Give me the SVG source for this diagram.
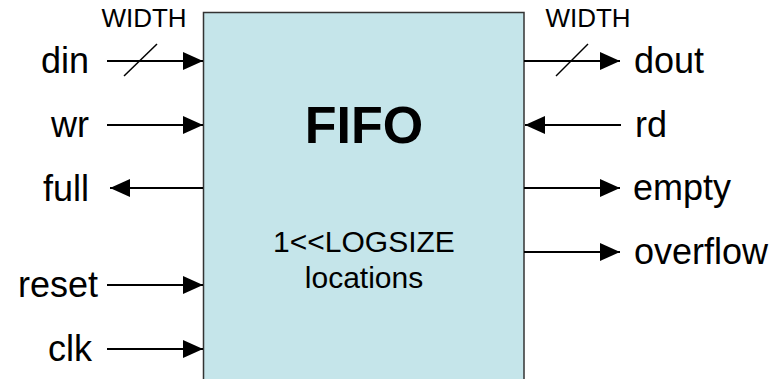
<svg xmlns="http://www.w3.org/2000/svg" width="778" height="379" viewBox="0 0 778 379">
  <style>
    .lbl { font-family: "Liberation Sans", Arial, sans-serif; font-size: 36px; fill: #000; }
    .bus { font-family: "Liberation Sans", Arial, sans-serif; font-size: 26px; fill: #000; }
    .title { font-family: "Liberation Sans", Arial, sans-serif; font-size: 52px; font-weight: bold; fill: #000; }
    .inner { font-family: "Liberation Sans", Arial, sans-serif; font-size: 30px; fill: #000; }
    .wire { stroke: #000; stroke-width: 2; fill: none; }
    .tick { stroke: #000; stroke-width: 1.5; fill: none; }
  </style>
  <defs>
    <marker id="arrow" viewBox="0 0 20 18" refX="20" refY="9" markerWidth="20" markerHeight="18" markerUnits="userSpaceOnUse" orient="auto">
      <path d="M0,0 L20,9 L0,18 Z" fill="#000"/>
    </marker>
  </defs>

  <rect width="778" height="379" fill="#fff"/>

  <!-- FIFO block -->
  <g id="fifo">
    <rect x="203.5" y="12.5" width="320.5" height="380" fill="#C5E5EA" stroke="#333" stroke-width="1.5"/>
    <text class="title" x="364" y="143" text-anchor="middle">FIFO</text>
    <text class="inner" x="364" y="252" text-anchor="middle">1&lt;&lt;LOGSIZE</text>
    <text class="inner" x="364" y="288" text-anchor="middle">locations</text>
  </g>

  <!-- port labels -->
  <g id="port-din"><text class="lbl" x="89" y="73" text-anchor="end">din</text><text class="bus" x="144" y="27" text-anchor="middle">WIDTH</text></g>
  <g id="port-wr"><text class="lbl" x="89" y="137" text-anchor="end">wr</text></g>
  <g id="port-full"><text class="lbl" x="89" y="201" text-anchor="end">full</text></g>
  <g id="port-reset"><text class="lbl" x="98" y="297" text-anchor="end">reset</text></g>
  <g id="port-clk"><text class="lbl" x="92" y="361" text-anchor="end">clk</text></g>
  <g id="port-dout"><text class="lbl" x="634" y="73">dout</text><text class="bus" x="588" y="27" text-anchor="middle">WIDTH</text></g>
  <g id="port-rd"><text class="lbl" x="635" y="137">rd</text></g>
  <g id="port-empty"><text class="lbl" x="633" y="200">empty</text></g>
  <g id="port-overflow"><text class="lbl" x="634" y="264">overflow</text></g>

  <!-- connectors -->
  <g id="connectors">
    <line class="wire" x1="107" y1="61" x2="203" y2="61" marker-end="url(#arrow)"/>
    <line class="tick" x1="124" y1="76" x2="157" y2="44"/>
    <line class="wire" x1="107" y1="125" x2="203" y2="125" marker-end="url(#arrow)"/>
    <line class="wire" x1="203" y1="188" x2="110" y2="188" marker-end="url(#arrow)"/>
    <line class="wire" x1="107" y1="285" x2="203" y2="285" marker-end="url(#arrow)"/>
    <line class="wire" x1="107" y1="349" x2="203" y2="349" marker-end="url(#arrow)"/>
    <line class="wire" x1="524" y1="61" x2="620" y2="61" marker-end="url(#arrow)"/>
    <line class="tick" x1="556" y1="76" x2="588" y2="44"/>
    <line class="wire" x1="621" y1="125" x2="525" y2="125" marker-end="url(#arrow)"/>
    <line class="wire" x1="524" y1="188" x2="620" y2="188" marker-end="url(#arrow)"/>
    <line class="wire" x1="524" y1="252" x2="620" y2="252" marker-end="url(#arrow)"/>
  </g>
</svg>
